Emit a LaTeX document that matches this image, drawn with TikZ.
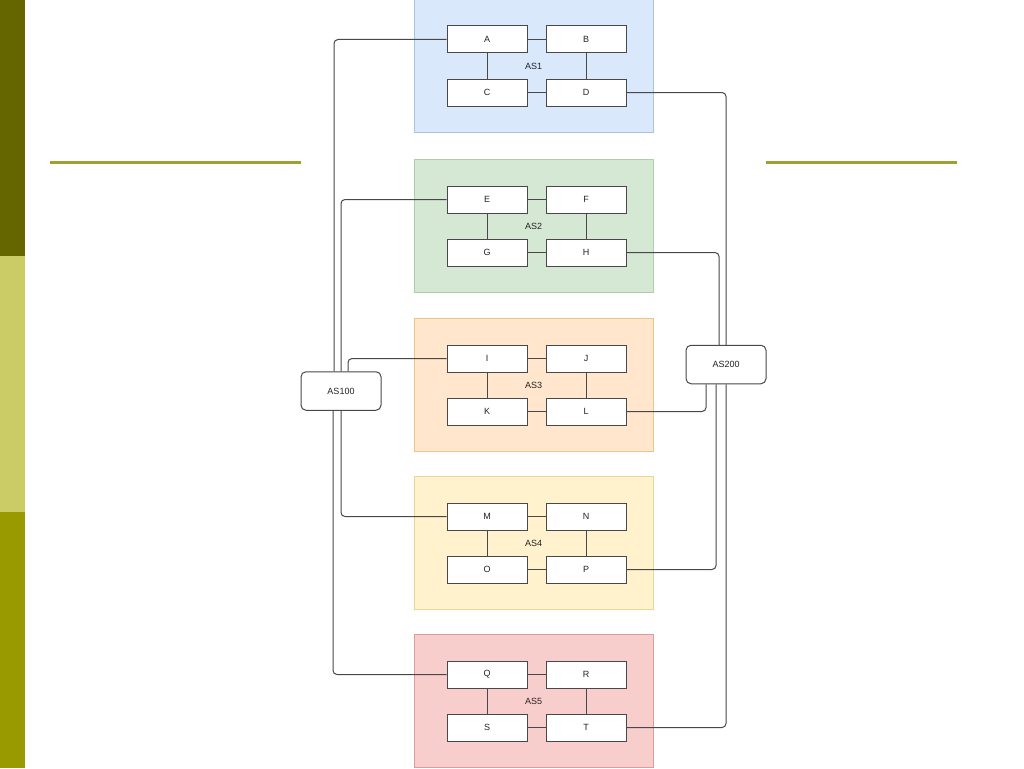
\documentclass[tikz,border=0pt]{standalone}
\usepackage{fontspec}
\setmainfont{Liberation Sans}
\definecolor{bardark}{HTML}{666600}
\definecolor{barlight}{HTML}{CCCC66}
\definecolor{barolive}{HTML}{999900}
\definecolor{rule}{HTML}{A0A032}
\definecolor{f1}{HTML}{DAE8FC}\definecolor{s1}{HTML}{A9C1E3}
\definecolor{f2}{HTML}{D5E8D4}\definecolor{s2}{HTML}{AFCDA6}
\definecolor{f3}{HTML}{FFE6CC}\definecolor{s3}{HTML}{E9C58A}
\definecolor{f4}{HTML}{FFF2CC}\definecolor{s4}{HTML}{E8D59A}
\definecolor{f5}{HTML}{F8CECC}\definecolor{s5}{HTML}{D99E9C}
\definecolor{ln}{HTML}{484848}
\definecolor{tx}{HTML}{222222}
\begin{document}
\begin{tikzpicture}[x=1pt,y=-1pt,
  every node/.style={font=\fontsize{9}{10}\selectfont, text=tx},
  nd/.style={draw=ln, line width=1pt, fill=white, minimum width=80pt, minimum height=27pt, inner sep=0pt},
  asn/.style={draw=ln, line width=1pt, fill=white, rounded corners=5pt, minimum width=80pt, minimum height=38.5pt, inner sep=0pt},
  link/.style={draw=ln, line width=1pt},
  conn/.style={draw=ln, line width=1pt, rounded corners=4pt},
  rulel/.style={draw=rule, line width=3pt}]
\useasboundingbox (0,0) rectangle (1024,768);
\fill[white] (0,0) rectangle (1024,768);
% left bar
\fill[bardark] (0,0) rectangle (25,255.5);
\fill[barlight] (0,255.5) rectangle (25,512);
\fill[barolive] (0,512) rectangle (25,768);
% rules
\draw[rulel] (50,162) -- (301,162);
\draw[rulel] (766,162) -- (957,162);
% AS groups
\foreach \t/\f/\s/\lab/\a/\b/\c/\d in {
   -1/f1/s1/AS1/A/B/C/D,
   159/f2/s2/AS2/E/F/G/H,
   318/f3/s3/AS3/I/J/K/L,
   476/f4/s4/AS4/M/N/O/P,
   634/f5/s5/AS5/Q/R/S/T}{
  \filldraw[fill=\f, draw=\s, line width=0.8pt] (414,\t) rectangle (653,\t+133);
  \node (\a) [nd] at (487,\t+40.5) {\a};
  \node (\b) [nd] at (586,\t+40.5) {\b};
  \node (\c) [nd] at (487,\t+93.5) {\c};
  \node (\d) [nd] at (586,\t+93.5) {\d};
  \node (lab\lab) at (533.5,\t+67) {\lab};
  \draw[link] (\a) -- (\b);
  \draw[link] (\c) -- (\d);
  \draw[link] (\a) -- (\c);
  \draw[link] (\b) -- (\d);
}
\node (AS100) [asn] at (341,391) {AS100};
\node (AS200) [asn] at (726,364.5) {AS200};
% left connectors
\draw[conn] (A.west) -| ([xshift=-7pt]AS100.north);
\draw[conn] (E.west) -| (AS100.north);
\draw[conn] (I.west) -| ([xshift=7pt]AS100.north);
\draw[conn] (M.west) -| (AS100.south);
\draw[conn] (Q.west) -| ([xshift=-8pt]AS100.south);
% right connectors
\draw[conn] (D.east) -| (AS200.north);
\draw[conn] (H.east) -| ([xshift=-7pt]AS200.north);
\draw[conn] (L.east) -| ([xshift=-20pt]AS200.south);
\draw[conn] (P.east) -| ([xshift=-10pt]AS200.south);
\draw[conn] (T.east) -| (AS200.south);
\end{tikzpicture}
\end{document}
